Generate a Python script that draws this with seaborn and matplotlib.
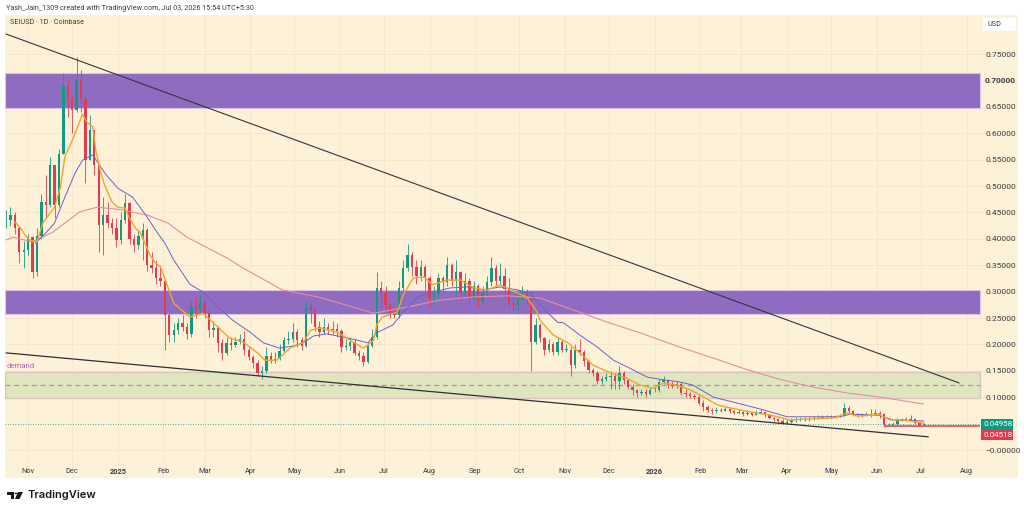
import numpy as np
import pandas as pd
import matplotlib
matplotlib.use("Agg")
import matplotlib.pyplot as plt
from matplotlib.patches import Rectangle, Polygon, Circle
import seaborn as sns

# Three-day SEI/USD candles, oldest first
closes = [
    .435,.445,.420,.375,.379,.403,.337,.405,.470,.465,
    .540,.465,.560,.690,.665,.645,.700,.665,.550,.606,
    .540,.426,.445,.430,.420,.398,.435,.468,.400,.388,
    .405,.417,.350,.345,.325,.320,.256,.218,.227,.240,
    .233,.220,.270,.265,.278,.260,.227,.232,.203,.184,
    .203,.199,.205,.210,.190,.176,.165,.146,.150,.178,
    .170,.172,.188,.208,.210,.224,.208,.197,.270,.265,
    .233,.223,.233,.227,.230,.225,.195,.197,.205,.184,
    .178,.167,.197,.214,.307,.297,.275,.260,.256,.307,
    .345,.369,.347,.330,.347,.325,.288,.295,.325,.318,
    .350,.320,.337,.297,.320,.288,.310,.283,.297,.318,
    .345,.320,.330,.305,.278,.275,.285,.297,.290,.204,
    .237,.212,.190,.200,.185,.205,.190,.190,.161,.190,
    .185,.168,.152,.145,.131,.135,.139,.140,.130,.145,
    .132,.120,.113,.108,.110,.106,.113,.113,.128,.133,
    .123,.122,.125,.108,.106,.103,.100,.090,.081,.076,
    .073,.076,.074,.078,.074,.071,.072,.068,.070,.066,
    .070,.072,.066,.061,.058,.055,.052,.053,.056,.057,
    .057,.059,.058,.060,.061,.062,.062,.064,.063,.065,
    .080,.074,.068,.066,.065,.067,.066,.070,.069,.048,
    .047,.049,.057,.058,.057,.058,.051,.048,.0496,
]
highs = [
    .455,.460,.450,.425,.395,.410,.405,.420,.485,.520,
    .555,.540,.570,.715,.700,.670,.745,.720,.670,.635,
    .600,.540,.480,.470,.440,.440,.450,.485,.470,.410,
    .415,.430,.420,.375,.360,.350,.320,.260,.240,.250,
    .255,.240,.285,.290,.295,.285,.265,.245,.235,.210,
    .215,.215,.215,.220,.225,.195,.180,.170,.160,.195,
    .185,.185,.200,.215,.225,.240,.230,.215,.280,.280,
    .270,.245,.250,.240,.245,.240,.230,.210,.215,.210,
    .190,.185,.205,.230,.337,.320,.310,.280,.270,.320,
    .360,.390,.375,.360,.360,.350,.330,.310,.335,.330,
    .365,.355,.360,.340,.335,.325,.320,.315,.310,.330,
    .365,.350,.355,.345,.325,.290,.300,.310,.305,.300,
    .250,.240,.215,.210,.205,.215,.210,.200,.195,.200,
    .210,.190,.170,.155,.150,.140,.145,.150,.145,.160,
    .150,.135,.125,.115,.115,.115,.120,.120,.135,.140,
    .135,.130,.130,.128,.115,.110,.106,.104,.095,.085,
    .080,.082,.080,.082,.079,.076,.078,.074,.075,.072,
    .075,.078,.074,.068,.063,.060,.058,.058,.060,.062,
    .062,.063,.062,.065,.066,.066,.066,.067,.067,.068,
    .090,.084,.076,.070,.070,.072,.078,.078,.074,.070,
    .052,.053,.060,.061,.062,.066,.060,.053,.052,
]
lows = [
    .420,.425,.410,.355,.345,.370,.325,.330,.400,.440,
    .460,.440,.460,.560,.630,.600,.640,.640,.505,.550,
    .520,.375,.370,.420,.410,.385,.390,.430,.390,.375,
    .380,.360,.340,.335,.315,.310,.190,.205,.205,.220,
    .225,.210,.215,.250,.260,.250,.215,.215,.185,.170,
    .180,.190,.195,.200,.180,.170,.155,.140,.135,.145,
    .165,.165,.170,.185,.200,.205,.195,.190,.195,.240,
    .225,.215,.220,.220,.220,.215,.185,.190,.190,.180,
    .170,.160,.165,.195,.210,.270,.265,.250,.250,.250,
    .300,.340,.330,.315,.320,.300,.270,.275,.290,.300,
    .310,.310,.295,.285,.290,.275,.285,.270,.275,.290,
    .310,.310,.315,.290,.270,.265,.265,.285,.275,.150,
    .200,.205,.180,.185,.180,.180,.185,.185,.140,.155,
    .180,.160,.145,.140,.125,.125,.130,.115,.115,.115,
    .125,.115,.105,.100,.105,.100,.105,.110,.110,.125,
    .118,.118,.118,.105,.100,.098,.096,.085,.073,.072,
    .068,.070,.072,.073,.071,.068,.068,.065,.066,.064,
    .066,.068,.062,.058,.054,.052,.050,.050,.052,.054,
    .055,.055,.055,.057,.058,.060,.060,.061,.061,.062,
    .064,.070,.065,.063,.063,.064,.063,.066,.060,.046,
    .045,.046,.048,.055,.055,.055,.049,.045,.047,
]

# Moving averages: days since the first candle, and price
fast_days = [6,10,13,16,21,25,33,37,40,46,52,55,59,61,64,67,72,76,81,84,88,91,95,98,101,105,110,114,125,134,144,152,161,171,176,184,193,202,207,214,225,234,243,250,252,256,266,270,277,284,290,300,309,318,327,336,343,354,361,363,372,382,390,399,411,422,431,440,447,456,465,472,484,492,506,520,533,547,563,572,579,593,601,610,624]
fast_ma = [.432,.420,.407,.398,.394,.430,.460,.498,.555,.593,.636,.621,.612,.568,.530,.502,.470,.460,.458,.439,.420,.413,.388,.369,.356,.347,.309,.278,.252,.259,.233,.212,.205,.184,.170,.170,.193,.203,.227,.231,.223,.208,.193,.208,.237,.252,.261,.294,.326,.328,.313,.322,.322,.307,.303,.313,.303,.290,.261,.246,.218,.203,.184,.161,.146,.136,.123,.117,.127,.123,.114,.104,.085,.080,.072,.066,.057,.059,.061,.070,.064,.068,.057,.057,.051]
mid_days = [20,27,33,40,47,52,59,67,76,86,95,103,108,114,125,134,144,154,166,175,186,195,202,209,218,229,239,246,252,263,270,280,290,302,314,324,336,348,356,365,375,379,390,402,413,424,436,447,458,467,481,497,515,531,549,567,574,593,603,624]
mid_ma = [.392,.411,.430,.479,.525,.549,.559,.525,.496,.479,.445,.411,.392,.360,.314,.299,.271,.246,.223,.203,.193,.197,.203,.216,.220,.214,.208,.203,.222,.237,.261,.290,.299,.307,.309,.303,.309,.303,.297,.269,.242,.241,.218,.195,.170,.155,.138,.133,.129,.123,.100,.089,.076,.063,.063,.063,.068,.066,.057,.055]
slow_days = [0,5,18,32,41,50,62,76,96,110,123,137,150,161,188,212,227,250,273,295,318,341,363,386,409,431,458,481,504,527,549,572,595,624]
slow_ma = [.398,.403,.394,.413,.432,.451,.460,.456,.445,.430,.403,.383,.364,.345,.303,.290,.278,.259,.271,.284,.290,.292,.288,.265,.242,.222,.195,.174,.152,.133,.119,.108,.100,.087]

# Price zones, trend lines and last-price markers
supply_zones = [(.648, .714), (.258, .304)]
demand_zone = (.099, .148)
demand_mid = .123
upper_trend_days = [0, 648]
upper_trend = [.788, .127]
lower_trend_days = [0, 627]
lower_trend = [.184, .025]
last_green = .04958
last_red = .04518

price_ticks = [.75,.70,.65,.60,.55,.50,.45,.40,.35,.30,.25,.20,.15,.10,0.0]
price_labels = ["0.75000","0.70000","0.65000","0.60000","0.55000","0.50000","0.45000",
                "0.40000","0.35000","0.30000","0.25000","0.20000","0.15000","0.10000","−0.00000"]
month_dates = ["2024-11-01","2024-12-01","2025-01-01","2025-02-01","2025-03-01","2025-04-01",
               "2025-05-01","2025-06-01","2025-07-01","2025-08-01","2025-09-01","2025-10-01",
               "2025-11-01","2025-12-01","2026-01-01","2026-02-01","2026-03-01","2026-04-01",
               "2026-05-01","2026-06-01","2026-07-01","2026-08-01"]
month_labels = ["Nov","Dec","2025","Feb","Mar","Apr","May","Jun","Jul","Aug","Sep","Oct",
                "Nov","Dec","2026","Feb","Mar","Apr","May","Jun","Jul","Aug"]
start_date = pd.Timestamp("2024-10-17")

BG = "#fdf1d8"
GRID = "#f6e7cc"
UP = "#129a80"
DOWN = "#e23a50"
INK = "#3a3d45"
FONT = "Roboto"

sns.set_theme(style="white")
plt.rcParams["font.family"] = [FONT, "DejaVu Sans"]

W, H = 1024, 512
fig = plt.figure(figsize=(W / 100, H / 100), dpi=100, facecolor="white")
ax = fig.add_axes([5 / W, 1 - 478 / H, 1013 / W, 463 / H], facecolor=BG)

xmin, xmax = -0.7, 688.0
zone_end = 662.5
ax.set_xlim(xmin, xmax)
ax.set_ylim(-0.0530, 0.8240)
for spine in ax.spines.values():
    spine.set_visible(False)

# Grid
month_pos = [(pd.Timestamp(d) - start_date).days for d in month_dates]
ax.set_xticks(month_pos, month_labels)
ax.set_yticks(price_ticks, price_labels)
ax.yaxis.tick_right()
ax.grid(True, color=GRID, lw=0.7)
ax.set_axisbelow(True)
ax.tick_params(axis="x", length=0, pad=-7.5, labelsize=5.3, labelcolor=INK)
ax.tick_params(axis="y", length=0, pad=-23.7, labelsize=6.0, labelcolor=INK)
for lab, text in zip(ax.get_xticklabels(), month_labels):
    if text.isdigit():
        lab.set_fontweight("bold")
for lab in ax.get_yticklabels():
    lab.set_horizontalalignment("left")
    if lab.get_text() == "0.70000":
        lab.set_fontweight("bold")

# Zones
for lo, hi in supply_zones:
    ax.add_patch(Rectangle((xmin, lo), zone_end - xmin, hi - lo, facecolor="#8f6cbf",
                           edgecolor="#d8c6e4", lw=0.8, zorder=1.5))
ax.add_patch(Rectangle((xmin, demand_zone[0]), zone_end - xmin, demand_zone[1] - demand_zone[0],
                       facecolor="#dfe5bf", edgecolor="#dcc5c0", lw=1.0, zorder=1.5))
ax.hlines(demand_mid, xmin, zone_end, colors="#c28aa5", lw=0.9, linestyles=(0, (4, 3)), zorder=1.6)
ax.text(0.2, .1600, "demand", color="#b565c9", fontsize=5.6, va="center", ha="left")

# Last-price lines
ax.hlines(last_green, xmin, zone_end, colors=UP, lw=0.6, linestyles=(0, (1, 2)), zorder=1.7)
ax.hlines(last_red, 597, zone_end, colors=DOWN, lw=1.5, alpha=0.75, zorder=1.7)

# Candles
candle_x = np.arange(len(closes)) * 3
opens = [closes[0]] + closes[:-1]
for x, o, h, l, c in zip(candle_x, opens, highs, lows, closes):
    color = UP if c >= o else DOWN
    ax.vlines(x, l, h, colors=color, lw=0.7, alpha=0.85, zorder=3)
    ax.bar(x, abs(c - o) or 0.001, bottom=min(o, c), width=1.6, color=color, lw=0, zorder=3.1)

# Moving averages
sns.lineplot(x=slow_days, y=slow_ma, ax=ax, color="#e58da5", lw=0.8, estimator=None, sort=False, zorder=4)
sns.lineplot(x=mid_days, y=mid_ma, ax=ax, color="#6e62c4", lw=0.7, estimator=None, sort=False, zorder=4)
sns.lineplot(x=fast_days, y=fast_ma, ax=ax, color="#f3a52a", lw=1.0, estimator=None, sort=False, zorder=4)

# Trend lines
sns.lineplot(x=upper_trend_days, y=upper_trend, ax=ax, color="#33363d", lw=0.8, estimator=None, zorder=5)
sns.lineplot(x=lower_trend_days, y=lower_trend, ax=ax, color="#2e3036", lw=0.9, estimator=None, zorder=5)
ax.set_xlabel("")
ax.set_ylabel("")


def px(x, y):
    """Pixel position, measured from the top left, as figure fractions."""
    return x / W, 1 - y / H


def pixel_box(x0, y0, x1, y1, **kw):
    fig.add_artist(Rectangle(px(x0, y1), (x1 - x0) / W, (y1 - y0) / H,
                             transform=fig.transFigure, **kw))


# Header text
fig.text(*px(6, 8), "Yash_Jain_1309 created with TradingView.com, Jul 03, 2026 15:54 UTC+5:30",
         fontsize=5.2, color=INK, va="center", ha="left")
fig.text(*px(10, 23), "SEIUSD · 1D · Coinbase", fontsize=5.2, color=INK, va="center", ha="left")

# Currency box and price tags
pixel_box(983, 18, 1016, 31, facecolor="white", edgecolor="none")
fig.text(*px(987, 24.5), "USD", fontsize=5.2, color=INK, va="center", ha="left")
pixel_box(981, 419, 1013, 429.5, facecolor="#0d9a80", edgecolor="none")
pixel_box(981, 430, 1013, 440, facecolor="#e5394f", edgecolor="none")
fig.text(*px(984, 424.3), f"{last_green:.5f}", fontsize=5.8, color="white", va="center", ha="left", zorder=10)
fig.text(*px(984, 435), f"{last_red:.5f}", fontsize=5.8, color="white", va="center", ha="left", zorder=10)

# Brand mark and wordmark
fig.add_artist(Polygon([px(7, 492), px(14, 492), px(14, 499), px(10.5, 499), px(10.5, 495), px(7, 495)],
                       closed=True, transform=fig.transFigure, facecolor="#16181d", edgecolor="none"))
fig.add_artist(Polygon([px(18, 492), px(23, 492), px(19.5, 499), px(15, 499)],
                       closed=True, transform=fig.transFigure, facecolor="#16181d", edgecolor="none"))
fig.add_artist(Circle(px(16, 493.4), 1.5 / W, transform=fig.transFigure, facecolor="#16181d", edgecolor="none"))
fig.text(*px(27, 495), "TradingView", fontsize=8.0, color="#16181d", va="center", ha="left",
         fontweight="semibold", family=["Inter", "DejaVu Sans"])

fig.savefig("out.png", dpi=100, facecolor="white")
